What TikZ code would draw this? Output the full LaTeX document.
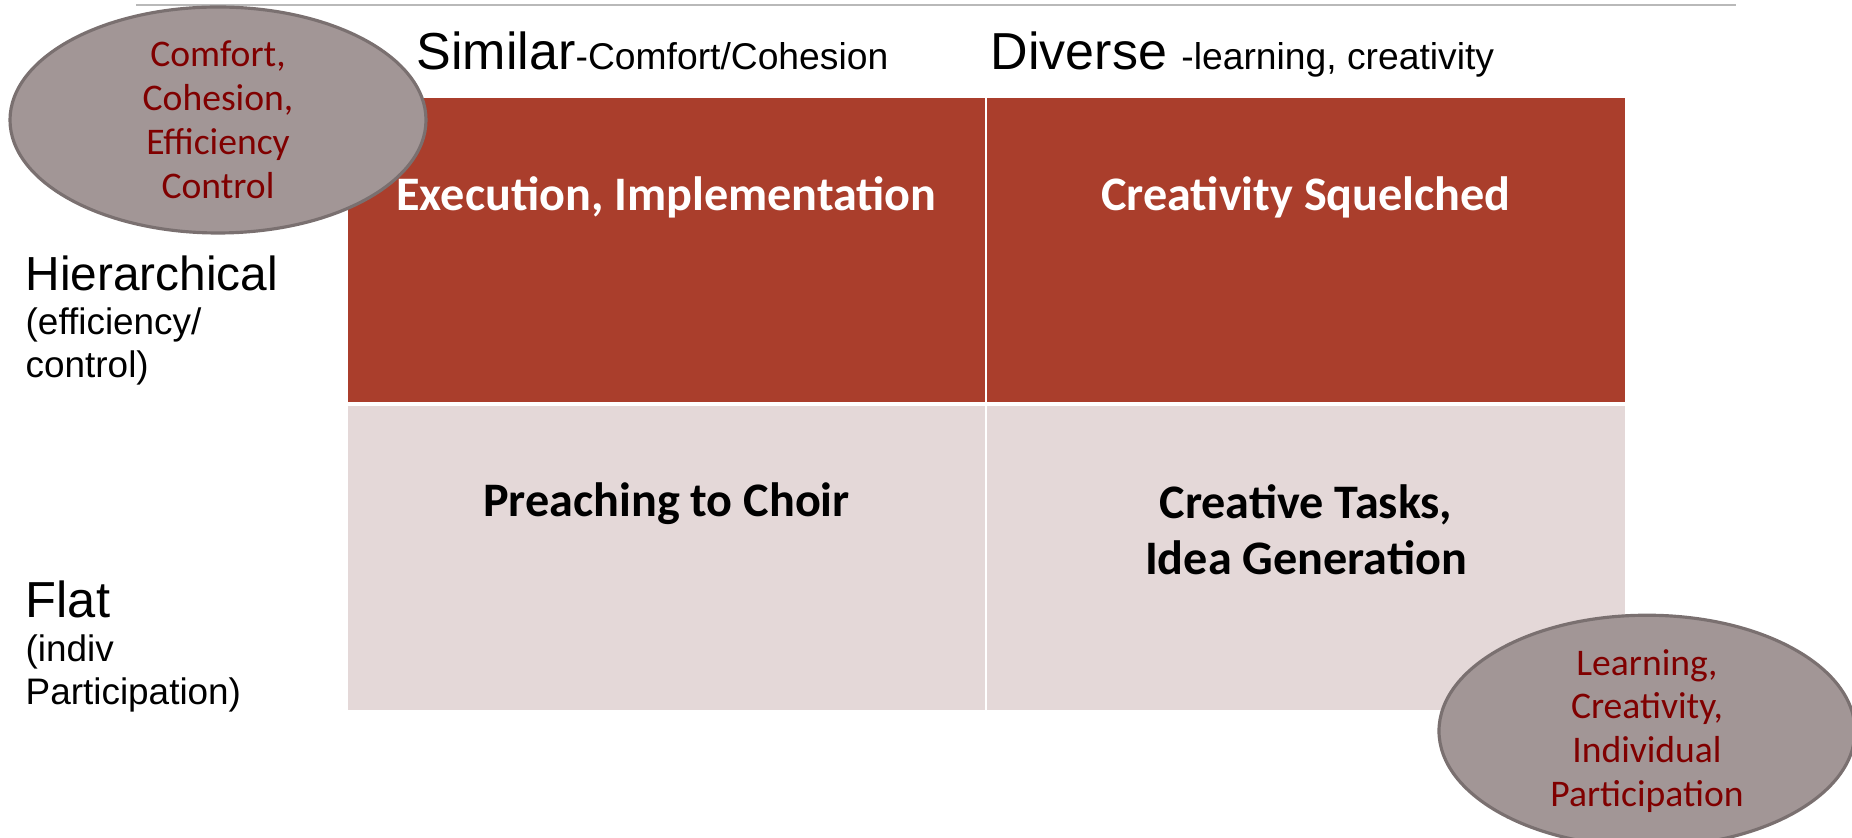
\documentclass[tikz,border=0pt]{standalone}
\usepackage{fontspec}
\setmainfont{Liberation Sans}
\newfontfamily\calibri{Carlito}
\usepackage{tikz}
\usetikzlibrary{calc, shapes}

\definecolor{cellred}{RGB}{170,62,44}
\definecolor{cellpink}{RGB}{228,216,216}
\definecolor{bubblegray}{RGB}{162,150,150}
\definecolor{bubbleedge}{RGB}{122,112,112}
\definecolor{bubbletext}{RGB}{128,0,0}

\begin{document}
\begin{tikzpicture}[
    bubble/.style={ellipse, fill=bubblegray, draw=bubbleedge, line width=0.9pt,
      minimum width=4.16cm, minimum height=2.26cm, inner sep=0pt, align=center,
      text=bubbletext, font=\calibri\fontsize{10.7}{12.5}\selectfont},
    celltext/.style={anchor=base, align=center,
      font=\calibri\bfseries\fontsize{13.7}{16}\selectfont},
    colhead/.style={anchor=base west, inner sep=0pt,
      font=\fontsize{14.8}{17}\selectfont},
    rowhead/.style={anchor=base west, align=left, inner sep=0pt,
      font=\fontsize{10.5}{12.4}\selectfont},
  ]
  \useasboundingbox (0,0) rectangle (18.52,-8.38);
  \draw[gray!55, line width=0.8pt] (1.36,-0.05) -- (17.36,-0.05);

  % quadrants
  \fill[cellred] (3.48,-0.98) rectangle (9.85,-4.02);
  \fill[cellred] (9.87,-0.98) rectangle (16.25,-4.02);
  \fill[cellpink] (3.48,-4.06) rectangle (9.85,-7.10);
  \fill[cellpink] (9.87,-4.06) rectangle (16.25,-7.10);

  % base of a multi-line node sits on its last line
  \node[celltext, text=white] (exec) at (6.665,-2.11) {Execution, Implementation};
  \node[celltext, text=white] (squelch) at (13.06,-2.11) {Creativity Squelched};
  \node[celltext] (choir) at (6.665,-5.17) {Preaching to Choir};
  \node[celltext] (tasks) at (13.06,-5.75) {Creative Tasks,\\Idea Generation};

  % axis headings
  \node[colhead] (similar) at (4.16,-0.70)
    {Similar{\fontsize{10.6}{12}\selectfont -Comfort/Cohesion}};
  \node[colhead] (diverse) at (9.90,-0.70)
    {Diverse {\fontsize{10.6}{12}\selectfont -learning, creativity}};
  \node[rowhead] (hier) at (0.25,-3.78)
    {{\fontsize{13.6}{12.4}\selectfont Hierarchical}\\(efficiency/\\control)};
  \node[rowhead] (flat) at (0.25,-7.05)
    {{\fontsize{14.4}{12.4}\selectfont Flat}\\(indiv\\Participation)};

  % outcome bubbles
  \node[bubble] (comfort) at (2.18,-1.20) {Comfort,\\Cohesion,\\Efficiency\\Control};
  \node[bubble] (learning) at (16.47,-7.31) {Learning,\\Creativity,\\Individual\\Participation};
\end{tikzpicture}
\end{document}
